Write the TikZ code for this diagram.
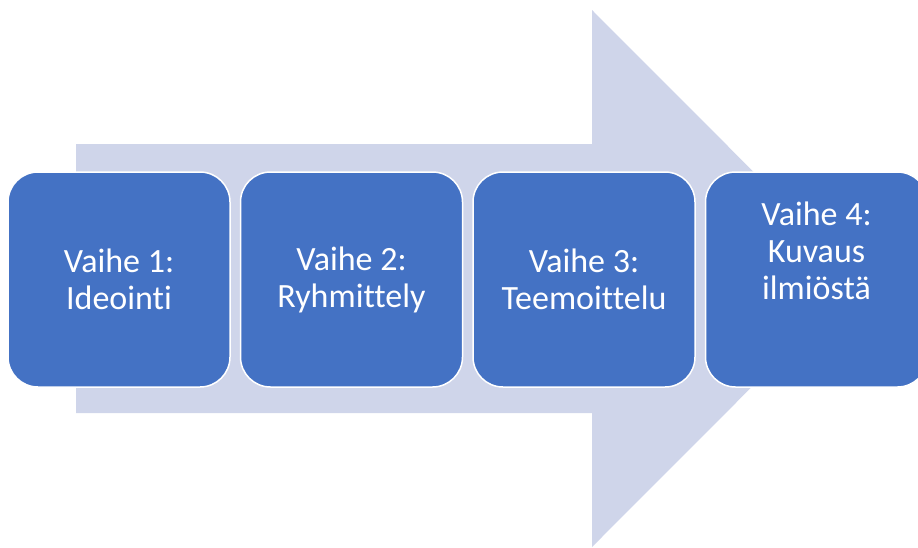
\documentclass[tikz,border=0pt]{standalone}
\usepackage{fontspec}
\setmainfont{Carlito}[Ligatures=CommonOff]
\usepackage{xcolor}
\definecolor{phaseblue}{HTML}{4472C4}
\definecolor{arrowgray}{HTML}{CFD5EA}
\usepackage{tikz}
\usetikzlibrary{positioning}
\tikzset{
	phase/.style={draw=white, line width=1.5pt, fill=phaseblue, rounded corners=30pt,
	minimum width=222pt, minimum height=215pt, inner sep=0pt, outer sep=0pt,
	text=white, align=center, font=\fontsize{34}{37}\selectfont}
}

\begin{document}
\begin{tikzpicture}[x=1pt, y=-1pt]
		\useasboundingbox (0, 0) rectangle (918, 547);
		\clip (0, 0) rectangle (918, 547);

		% big arrow in the back
		\fill[arrowgray] (76, 144) -- (592, 144) -- (592, 10) -- (860, 278.5) -- (592, 547) -- (592, 413) -- (76, 413) -- cycle;

		% phases
		\node[phase] (vaihe1) at (119, 279.5) {Vaihe 1:\\Ideointi};
		\node[phase, right=10.5pt of vaihe1] (vaihe2) {Vaihe 2:\\Ryhmittely};
		\node[phase, right=10.5pt of vaihe2] (vaihe3) {Vaihe 3:\\Teemoittelu};
		\node[phase, right=10.5pt of vaihe3] (vaihe4) {Vaihe 4:\\Kuvaus\\ilmiöstä\\[21pt]\mbox{}};

	\end{tikzpicture}
\end{document}
